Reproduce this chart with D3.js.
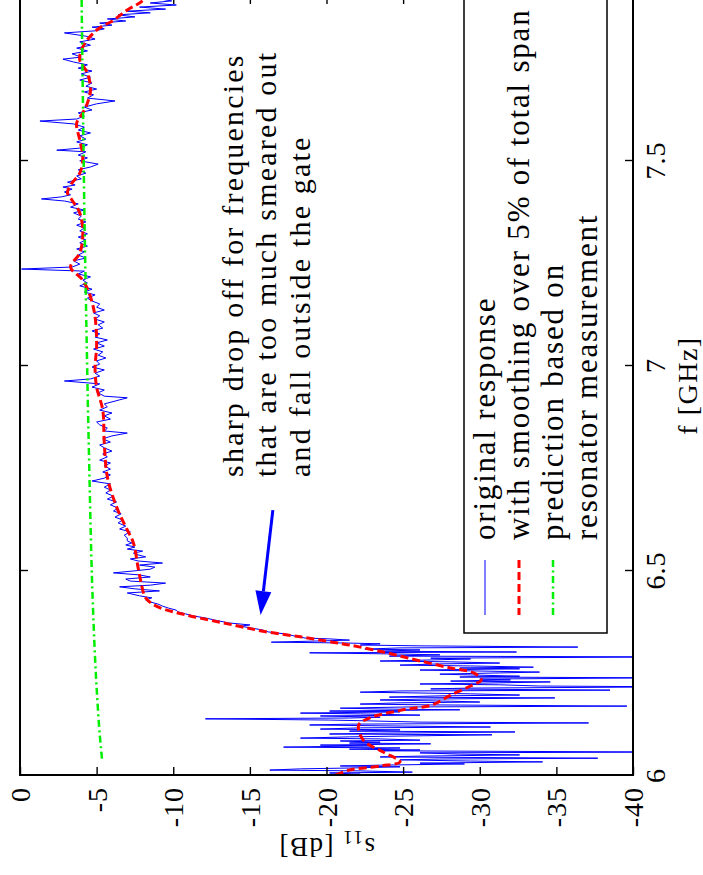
<!DOCTYPE html>
<html>
<head>
<meta charset="utf-8">
<script src="https://cdn.jsdelivr.net/npm/d3@7"></script>
<style>
  html, body { margin: 0; padding: 0; background: #fff; }
  svg { display: block; }
</style>
</head>
<body>
<svg id="chart" width="703" height="875"></svg>
<script>
// ---- data -------------------------------------------------------------
const freqTicks = [6, 6.5, 7, 7.5];
const dbTicks = [0, -5, -10, -15, -20, -25, -30, -35, -40];

// measured |S11| [f (GHz), dB]
const originalResponse = [
  [6.000,-20.9],[6.002,-22.2],[6.005,-20.2],[6.007,-25.6],[6.010,-22.2],[6.012,-16.3],[6.015,-18.3],[6.017,-21.5],
  [6.020,-24.8],[6.022,-20.9],[6.024,-23.5],[6.027,-29.0],[6.029,-26.1],[6.032,-34.1],[6.034,-29.4],[6.037,-24.8],
  [6.039,-27.4],[6.041,-37.7],[6.044,-23.5],[6.046,-26.1],[6.049,-32.6],[6.051,-28.7],[6.054,-26.1],[6.056,-42.0],
  [6.059,-23.5],[6.061,-26.1],[6.063,-21.5],[6.066,-24.8],[6.068,-17.2],[6.071,-22.8],[6.073,-19.6],[6.076,-26.8],
  [6.078,-21.5],[6.080,-23.5],[6.083,-20.9],[6.085,-26.1],[6.088,-23.5],[6.090,-18.3],[6.093,-21.5],[6.095,-24.8],
  [6.098,-30.8],[6.100,-20.2],[6.102,-23.5],[6.105,-32.3],[6.107,-21.5],[6.110,-24.8],[6.112,-19.6],[6.115,-22.2],
  [6.117,-30.7],[6.120,-23.5],[6.122,-18.9],[6.124,-21.5],[6.127,-37.1],[6.129,-26.1],[6.132,-22.8],[6.134,-20.2],
  [6.137,-12.1],[6.139,-21.5],[6.141,-23.5],[6.144,-19.6],[6.146,-26.1],[6.149,-22.2],[6.151,-18.3],[6.154,-24.8],
  [6.156,-20.2],[6.159,-28.7],[6.161,-23.5],[6.163,-20.9],[6.166,-25.4],[6.168,-39.6],[6.171,-26.8],[6.173,-22.2],
  [6.176,-24.8],[6.178,-30.0],[6.180,-28.1],[6.183,-23.5],[6.185,-26.1],[6.188,-34.9],[6.190,-24.1],[6.193,-27.4],
  [6.195,-32.6],[6.198,-29.4],[6.200,-26.1],[6.202,-22.2],[6.205,-24.8],[6.207,-38.5],[6.210,-26.8],[6.212,-29.4],
  [6.215,-43.0],[6.217,-33.9],[6.220,-31.3],[6.222,-26.1],[6.224,-30.0],[6.227,-34.6],[6.229,-28.1],[6.232,-32.0],
  [6.234,-30.0],[6.237,-41.5],[6.239,-28.7],[6.241,-32.6],[6.244,-29.4],[6.246,-27.4],[6.249,-31.3],[6.251,-33.9],
  [6.254,-29.4],[6.256,-26.1],[6.259,-32.6],[6.261,-28.7],[6.263,-33.5],[6.266,-29.4],[6.268,-24.8],[6.271,-27.4],
  [6.273,-31.3],[6.276,-28.1],[6.278,-23.5],[6.280,-26.1],[6.283,-29.4],[6.285,-26.8],[6.288,-42.5],[6.290,-24.1],
  [6.293,-27.4],[6.295,-24.8],[6.298,-18.9],[6.300,-32.4],[6.302,-23.5],[6.305,-26.1],[6.307,-22.5],[6.310,-24.8],
  [6.312,-36.4],[6.315,-26.1],[6.317,-22.2],[6.320,-23.5],[6.322,-21.2],[6.324,-16.4],[6.327,-19.6],[6.329,-21.5],
  [6.332,-20.2],[6.334,-18.6],
  [6.339,-17.9],[6.344,-17.3],[6.349,-16.2],[6.354,-15.8],[6.359,-15.0],[6.363,-14.4],[6.366,-15.0],[6.371,-13.6],
  [6.378,-12.7],[6.383,-12.1],[6.388,-11.3],[6.393,-10.8],[6.398,-10.3],[6.402,-10.2],[6.407,-9.7],[6.412,-9.3],
  [6.417,-9.0],[6.422,-8.5],[6.427,-8.2],[6.432,-8.6],[6.437,-7.8],
  [6.444,-7.0],[6.449,-9.1],[6.454,-7.5],[6.459,-6.5],[6.463,-8.5],[6.468,-9.5],[6.473,-7.2],[6.478,-6.9],
  [6.483,-8.5],[6.488,-7.8],[6.493,-6.1],[6.498,-7.5],[6.502,-8.5],[6.507,-8.8],[6.512,-7.8],[6.517,-9.3],
  [6.522,-7.7],[6.527,-7.2],[6.532,-8.2],[6.537,-7.7],[6.541,-7.4],[6.546,-8.0],[6.551,-7.0],[6.556,-7.5],
  [6.561,-6.9],[6.566,-7.3],[6.571,-7.0],
  [6.578,-7.0],[6.585,-6.8],[6.593,-7.2],[6.600,-6.5],[6.607,-6.9],[6.615,-6.4],[6.622,-6.7],[6.629,-6.2],
  [6.637,-6.6],[6.644,-6.1],[6.651,-6.4],[6.659,-5.9],[6.666,-6.3],[6.673,-5.7],[6.680,-6.1],[6.688,-5.6],
  [6.695,-5.9],[6.702,-5.5],[6.710,-5.9],[6.717,-4.7],[6.724,-5.5],[6.732,-5.9],[6.739,-5.4],[6.746,-5.9],
  [6.754,-5.5],[6.761,-5.9],[6.768,-5.2],[6.776,-5.7],[6.783,-5.4],[6.790,-6.0],[6.798,-5.5],[6.805,-5.2],
  [6.812,-5.9],[6.820,-5.4],[6.827,-6.0],[6.834,-7.0],[6.839,-5.5],[6.846,-5.7],[6.854,-5.2],[6.861,-5.0],
  [6.868,-5.9],[6.876,-5.5],[6.883,-6.0],[6.890,-5.2],[6.898,-5.7],[6.905,-5.5],[6.912,-6.2],[6.920,-7.0],
  [6.924,-5.5],[6.932,-5.1],[6.939,-5.5],[6.946,-4.7],[6.954,-5.2],[6.961,-2.9],[6.966,-4.6],[6.973,-5.2],
  [6.980,-4.9],[6.988,-5.5],[6.995,-4.7],[7.002,-5.2],[7.010,-5.0],[7.017,-5.6],[7.024,-5.1],[7.032,-5.4],
  [7.039,-4.8],[7.046,-5.5],[7.054,-5.0],[7.061,-5.7],[7.068,-4.9],[7.076,-5.2],[7.083,-4.7],[7.090,-5.4],
  [7.098,-5.1],[7.105,-5.5],[7.112,-4.9],[7.120,-5.2],[7.127,-4.8],[7.134,-5.5],[7.141,-5.0],[7.149,-5.2],
  [7.156,-4.7],[7.163,-4.4],[7.171,-4.9],[7.178,-4.2],[7.185,-4.7],[7.193,-3.9],[7.200,-4.4],[7.207,-4.1],
  [7.215,-4.6],[7.222,-3.8],[7.229,-4.2],[7.234,-0.1],[7.239,-3.4],[7.246,-3.9],[7.254,-3.5],[7.261,-4.3],
  [7.268,-3.8],[7.276,-4.2],[7.283,-3.7],[7.290,-4.4],[7.298,-3.9],[7.305,-4.3],[7.312,-3.8],[7.320,-4.4],
  [7.327,-3.9],[7.334,-4.2],[7.341,-3.7],[7.349,-4.3],[7.356,-3.8],[7.363,-4.0],[7.371,-3.5],[7.378,-4.2],
  [7.385,-3.3],[7.393,-3.8],[7.400,-2.9],[7.405,-1.4],[7.410,-2.7],[7.415,-3.3],[7.422,-2.9],[7.429,-3.4],
  [7.434,-2.8],[7.439,-3.6],[7.446,-3.1],[7.454,-4.0],[7.461,-3.7],[7.468,-4.3],[7.476,-3.8],[7.483,-4.6],
  [7.490,-5.1],[7.498,-3.9],[7.505,-4.4],[7.512,-3.8],[7.520,-4.3],[7.524,-2.4],[7.529,-3.9],[7.537,-4.4],
  [7.544,-3.7],[7.551,-4.3],[7.559,-3.9],[7.566,-4.6],[7.573,-3.8],[7.580,-4.2],[7.588,-3.5],[7.595,-1.3],
  [7.600,-3.7],[7.607,-4.2],[7.615,-3.8],[7.622,-4.7],[7.629,-4.2],[7.637,-5.0],[7.644,-6.2],[7.651,-4.4],
  [7.659,-4.8],[7.666,-4.2],[7.673,-5.0],[7.680,-4.3],[7.688,-4.7],[7.695,-3.9],[7.702,-4.6],[7.710,-4.0],
  [7.717,-4.7],[7.724,-3.8],[7.732,-4.4],[7.739,-3.5],[7.746,-2.8],[7.751,-4.0],[7.759,-3.4],[7.766,-4.4],
  [7.773,-3.7],[7.780,-4.6],[7.788,-3.9],[7.795,-4.9],[7.802,-4.3],[7.810,-2.9],[7.815,-4.9],[7.820,-5.5],
  [7.824,-4.7],[7.829,-6.0],[7.834,-5.2],[7.839,-6.9],[7.844,-5.7],[7.849,-7.5],[7.854,-6.4],[7.859,-8.5],
  [7.863,-7.0],[7.868,-9.5],[7.873,-7.8],[7.878,-10.2],[7.883,-8.5],[7.888,-9.9],[7.893,-9.1],[7.898,-9.8]
];

// same response smoothed over 5% of the total span
const smoothedResponse = [
  [6.000,-20.6],[6.012,-21.5],[6.022,-23.5],[6.032,-24.8],[6.056,-23.7],[6.085,-22.4],[6.122,-22.1],[6.139,-22.8],
  [6.159,-25.0],[6.171,-26.9],[6.195,-28.1],[6.217,-29.4],[6.232,-30.1],[6.249,-29.6],[6.261,-28.1],[6.280,-25.9],
  [6.300,-23.7],[6.317,-21.5],[6.324,-20.4],[6.337,-18.3],[6.349,-16.1],[6.366,-13.9],[6.390,-10.9],[6.410,-9.0],
  [6.432,-8.2],[6.470,-7.9],[6.507,-7.7],[6.566,-7.4],[6.605,-6.9],[6.654,-6.3],[6.727,-5.7],[6.810,-5.5],
  [6.890,-5.4],[6.946,-5.0],[6.995,-4.9],[7.044,-5.0],[7.117,-4.9],[7.166,-4.6],[7.207,-4.1],[7.239,-3.3],
  [7.273,-3.9],[7.322,-4.1],[7.371,-3.9],[7.402,-3.4],[7.420,-3.1],[7.439,-3.3],[7.468,-3.9],[7.507,-4.1],
  [7.549,-3.9],[7.590,-3.7],[7.615,-4.1],[7.639,-4.4],[7.671,-4.6],[7.712,-4.4],[7.744,-3.9],[7.776,-4.1],
  [7.817,-5.0],[7.841,-6.1],[7.866,-7.0],[7.883,-7.8],[7.900,-8.4]
];

// prediction from the resonator measurement
const predictedResponse = [
  [6.04,-5.35],[6.10,-5.20],[6.20,-5.02],[6.30,-4.88],[6.40,-4.77],[6.50,-4.68],[6.60,-4.61],[6.70,-4.55],
  [6.80,-4.49],[6.90,-4.43],[7.00,-4.38],[7.20,-4.28],[7.40,-4.19],[7.60,-4.12],[7.80,-4.05],[7.90,-4.02]
];

const legendLabels = [
  "original response",
  "with smoothing over 5% of total span",
  "prediction based on",
  "resonator measurement"
];
const annotationLines = [
  "sharp drop off for frequencies",
  "that are too much smeared out",
  "and fall outside the gate"
];

// ---- layout -----------------------------------------------------------
const W = 703, H = 875;
const box = { left: 20, right: 633, top: -4, bottom: 775 };
const SERIF = "Liberation Serif";

// the figure is laid out turned a quarter turn: frequency runs upward,
// S11 runs to the right
const fScale = d3.scaleLinear().domain([6, 7.9]).range([box.bottom, box.top]);
const dbScale = d3.scaleLinear().domain([0, -40]).range([box.left, box.right]);

const svg = d3.select("#chart");
svg.append("rect").attr("width", W).attr("height", H).attr("fill", "#fff");

svg.append("defs").append("clipPath").attr("id", "plotClip")
  .append("rect")
  .attr("x", box.left).attr("y", box.top)
  .attr("width", box.right - box.left).attr("height", box.bottom - box.top);

const rawLine = d3.line().x(d => dbScale(d[1])).y(d => fScale(d[0]));
const smoothLine = d3.line().x(d => dbScale(d[1])).y(d => fScale(d[0])).curve(d3.curveCatmullRom);

const plot = svg.append("g").attr("clip-path", "url(#plotClip)");

plot.append("path").datum(originalResponse)
  .attr("d", rawLine).attr("fill", "none")
  .attr("stroke", "#0000ff").attr("stroke-width", 1).attr("stroke-linejoin", "round");

plot.append("path").datum(smoothedResponse)
  .attr("d", smoothLine).attr("fill", "none")
  .attr("stroke", "#ff0000").attr("stroke-width", 3).attr("stroke-dasharray", "8,4");

plot.append("path").datum(predictedResponse)
  .attr("d", smoothLine).attr("fill", "none")
  .attr("stroke", "#00ee00").attr("stroke-width", 2.5).attr("stroke-dasharray", "7,3.5,2,3.5");

// frame
svg.append("rect")
  .attr("x", box.left).attr("y", box.top)
  .attr("width", box.right - box.left).attr("height", box.bottom - box.top)
  .attr("fill", "none").attr("stroke", "#000").attr("stroke-width", 2);

// ---- axes -------------------------------------------------------------
function styleAxis(g) {
  g.select(".domain").remove();
  g.attr("font-family", SERIF).attr("font-size", 28);
  g.selectAll(".tick line").attr("stroke", "#000").attr("stroke-width", 1.4);
  g.selectAll("text").attr("fill", "#000").attr("font-family", SERIF).attr("letter-spacing", 1);
}

const dbAxis = svg.append("g")
  .attr("transform", `translate(0,${box.bottom})`)
  .call(d3.axisBottom(dbScale).tickValues(dbTicks).tickSizeInner(-8).tickSizeOuter(0)
    .tickFormat(d => String(d)));
styleAxis(dbAxis);
dbAxis.selectAll("text")
  .attr("x", 0).attr("y", 0).attr("dy", null)
  .attr("text-anchor", "end")
  .attr("transform", "translate(9.5,12) rotate(-90)");

svg.append("g")
  .attr("transform", `translate(0,${box.top})`)
  .call(d3.axisTop(dbScale).tickValues(dbTicks.slice(1, -1)).tickSizeInner(-8).tickSizeOuter(0).tickFormat(""))
  .call(styleAxis);

svg.append("g")
  .attr("transform", `translate(${box.left},0)`)
  .call(d3.axisLeft(fScale).tickValues(freqTicks.slice(1)).tickSizeInner(-8).tickSizeOuter(0).tickFormat(""))
  .call(styleAxis);

const fAxis = svg.append("g")
  .attr("transform", `translate(${box.right},0)`)
  .call(d3.axisRight(fScale).tickValues(freqTicks).tickSizeInner(-8).tickSizeOuter(0)
    .tickFormat(d => String(d)));
styleAxis(fAxis);
fAxis.selectAll(".tick").filter(d => d === freqTicks[0]).select("line").remove();
fAxis.selectAll("text")
  .attr("x", 0).attr("y", 0).attr("dy", null)
  .attr("text-anchor", "middle")
  .attr("transform", "translate(32,0) rotate(-90)");

// axis titles
svg.append("text")
  .attr("transform", `translate(${(box.left + box.right) / 2},838) rotate(180)`)
  .attr("font-family", SERIF)
  .attr("text-anchor", "middle").attr("font-size", 27).attr("letter-spacing", 1.5)
  .call(t => {
    t.append("tspan").text("s");
    t.append("tspan").attr("font-size", 19).attr("dy", 7).text("11");
    t.append("tspan").attr("dy", -7).text(" [dB]");
  });

svg.append("text")
  .attr("transform", `translate(697,${(box.top + box.bottom) / 2}) rotate(-90)`)
  .attr("font-family", SERIF)
  .attr("text-anchor", "middle").attr("font-size", 28).attr("letter-spacing", 1.5)
  .text("f [GHz]");

// ---- legend -----------------------------------------------------------
const legend = { left: 464, right: 607, bottom: 633, textStart: 540, firstBaseline: 495, lineGap: 34 };
svg.append("rect")
  .attr("x", legend.left).attr("y", -20)
  .attr("width", legend.right - legend.left).attr("height", legend.bottom + 20)
  .attr("fill", "#fff").attr("stroke", "#000").attr("stroke-width", 1.5);

const legendKeys = [
  { stroke: "#0000ff", width: 1, dash: null },
  { stroke: "#ff0000", width: 3, dash: "8,4" },
  { stroke: "#00ee00", width: 2.5, dash: "7,3.5,2,3.5" }
];
legendKeys.forEach((k, i) => {
  const x = legend.firstBaseline + i * legend.lineGap - 10;
  svg.append("line")
    .attr("x1", x).attr("x2", x).attr("y1", 560).attr("y2", 615)
    .attr("stroke", k.stroke).attr("stroke-width", k.width)
    .attr("stroke-dasharray", k.dash);
});

const legendText = svg.append("text")
  .attr("transform", `translate(${legend.firstBaseline},${legend.textStart}) rotate(-90)`)
  .attr("font-family", SERIF)
  .attr("font-size", 31).attr("letter-spacing", 1.8);
legendLabels.forEach((s, i) => {
  legendText.append("tspan").attr("x", 0).attr("dy", i === 0 ? 0 : legend.lineGap).text(s);
});

// ---- annotation -------------------------------------------------------
const noteAt = { f: 6.727, db: -14.55 };
const note = svg.append("text")
  .attr("transform", `translate(${dbScale(noteAt.db)},${fScale(noteAt.f)}) rotate(-90)`)
  .attr("font-family", SERIF)
  .attr("font-size", 30).attr("letter-spacing", 2.2);
annotationLines.forEach((s, i) => {
  note.append("tspan").attr("x", 0).attr("dy", i === 0 ? 0 : 33.5).text(s);
});

// arrow pointing at the edge of the gated band
const arrowFrom = { f: 6.646, db: -16.5 };
const arrowTo = { f: 6.390, db: -15.7 };
const ax0 = dbScale(arrowFrom.db), ay0 = fScale(arrowFrom.f);
const ax1 = dbScale(arrowTo.db), ay1 = fScale(arrowTo.f);
const len = Math.hypot(ax1 - ax0, ay1 - ay0);
const ux = (ax1 - ax0) / len, uy = (ay1 - ay0) / len;
const headLen = 24, headHalf = 8;
const bx = ax1 - ux * headLen, by = ay1 - uy * headLen;
svg.append("line")
  .attr("x1", ax0).attr("y1", ay0).attr("x2", bx).attr("y2", by)
  .attr("stroke", "#0000ff").attr("stroke-width", 3);
svg.append("path")
  .attr("d", `M${ax1},${ay1}L${bx - uy * headHalf},${by + ux * headHalf}L${bx + uy * headHalf},${by - ux * headHalf}Z`)
  .attr("fill", "#0000ff");
</script>
</body>
</html>
